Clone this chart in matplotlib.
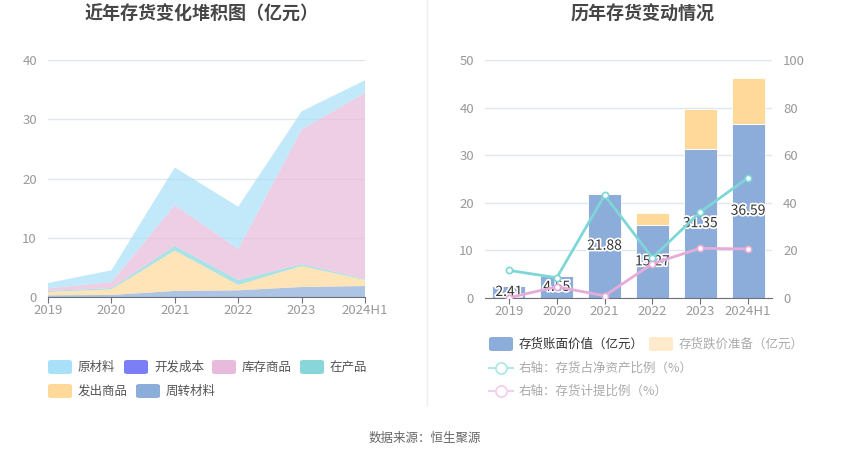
import matplotlib
matplotlib.use("Agg")
import matplotlib.pyplot as plt
import numpy as np
from matplotlib.lines import Line2D
from matplotlib.patches import FancyBboxPatch
import matplotlib.patheffects as pe

plt.rcParams["font.family"] = ["Noto Sans CJK SC", "DejaVu Sans"]

W, H = 850, 459

years = ["2019", "2020", "2021", "2022", "2023", "2024H1"]

# left chart: inventory composition (亿元), stacked bottom -> top
zhouzhuan = [0.34, 0.40, 1.07, 1.18, 1.74, 1.90]      # 周转材料
fachu = [0.56, 0.95, 6.80, 0.90, 3.54, 1.02]          # 发出商品
zaichan = [0.17, 0.20, 0.83, 0.84, 0.32, 0.17]        # 在产品
kucun = [0.45, 1.00, 6.86, 5.23, 22.70, 31.40]        # 库存商品
kaifa = [0.0, 0.0, 0.0, 0.0, 0.0, 0.0]                # 开发成本
yuancai = [0.89, 2.00, 6.32, 7.12, 3.05, 2.10]        # 原材料

# right chart
book_value = [2.41, 4.55, 21.88, 15.27, 31.35, 36.59]
impairment = [0.0, 0.22, 0.18, 2.55, 8.27, 9.55]
ratio_net_assets = [11.5, 8.4, 43.1, 16.8, 36.0, 50.5]
ratio_provision = [0.0, 4.6, 0.8, 14.3, 20.8, 20.5]

C_YUAN = "#a8e0f8"
C_KAIFA = "#7b7ef4"
C_KUCUN = "#e8badb"
C_ZAI = "#88d6da"
C_FACHU = "#ffd999"
C_ZHOU = "#8cacda"
C_TEAL = "#7fd6d6"
C_PINK = "#e6acd9"
GRID = "#e0e6f1"
TICK = "#999999"
AXIS = "#6e7079"


def fx(px):
    return px / W


def fy(py):
    return 1 - py / H


def style_axes(ax):
    for s in ("top", "right", "left"):
        ax.spines[s].set_visible(False)
    ax.spines["bottom"].set_color(AXIS)
    ax.grid(axis="y", color=GRID, linewidth=1)
    ax.set_axisbelow(True)
    ax.tick_params(axis="y", length=0, colors=TICK, labelsize=9.5, pad=8)
    ax.tick_params(axis="x", length=4, color=AXIS, colors=TICK, labelsize=9.5, pad=1)


fig = plt.figure(figsize=(W / 100, H / 100), dpi=100)

# ---- left: stacked area ----
ax1 = fig.add_axes([fx(48), fy(297.3), fx(365 - 48), (297.3 - 60) / H])
x = np.arange(len(years))
ax1.stackplot(x, zhouzhuan, fachu, zaichan, kucun, kaifa, yuancai,
              colors=[C_ZHOU, C_FACHU, C_ZAI, C_KUCUN, C_KAIFA, C_YUAN],
              alpha=0.7, linewidth=0)
ax1.set_xlim(0, len(years) - 1)
ax1.set_ylim(0, 40)
ax1.set_yticks([0, 10, 20, 30, 40])
ax1.set_xticks(x)
ax1.set_xticklabels(years)
style_axes(ax1)

# ---- right: bars + lines ----
ax2 = fig.add_axes([fx(485), fy(297.7), fx(772 - 485), (297.7 - 60) / H])
ax2.bar(x, book_value, width=0.69, color=C_ZHOU, edgecolor="white", linewidth=0.6, zorder=2)
ax2.bar(x, impairment, bottom=book_value, width=0.69, color=C_FACHU,
        edgecolor="white", linewidth=0.6, zorder=2)
for xi, v in zip(x, book_value):
    ax2.text(xi, v / 2, f"{v:.2f}", ha="center", va="center", fontsize=10, color="#333333",
             path_effects=[pe.withStroke(linewidth=2.5, foreground="white")], zorder=3)
ax2.set_xlim(-0.5, len(years) - 0.5)
ax2.set_ylim(0, 50)
ax2.set_yticks([0, 10, 20, 30, 40, 50])
ax2.set_xticks(x)
ax2.set_xticklabels(years)
style_axes(ax2)

ax3 = ax2.twinx()
ax3.plot(x, ratio_net_assets, color=C_TEAL, linewidth=2, marker="o", markersize=4.5,
         markerfacecolor="white", markeredgecolor=C_TEAL, markeredgewidth=1.2)
ax3.plot(x, ratio_provision, color=C_PINK, linewidth=2, marker="o", markersize=4.5,
         markerfacecolor="white", markeredgecolor=C_PINK, markeredgewidth=1.2)
ax3.set_ylim(0, 100)
ax3.set_yticks([0, 20, 40, 60, 80, 100])
for s in ax3.spines.values():
    s.set_visible(False)
ax3.tick_params(axis="y", length=0, colors=TICK, labelsize=9.5, pad=8)

# ---- titles, divider, footer ----
fig.text(fx(202), fy(14), "近年存货变化堆积图（亿元）", ha="center", va="center",
         fontsize=13, fontweight="bold", color="#464646")
fig.text(fx(643), fy(14), "历年存货变动情况", ha="center", va="center",
         fontsize=13, fontweight="bold", color="#464646")
fig.add_artist(Line2D([fx(427), fx(427)], [fy(0), fy(405)], color="#eeeeee", linewidth=1))
fig.text(fx(425), fy(438), "数据来源：恒生聚源", ha="center", va="center",
         fontsize=9, color="#666666")


def legend_patch(px, py, color, label, tcolor="#555555"):
    fig.add_artist(FancyBboxPatch((fx(px), fy(py + 7)), fx(24), 14 / H,
                                  boxstyle="round,pad=0,rounding_size=0.004",
                                  facecolor=color, edgecolor="none"))
    fig.text(fx(px + 30), fy(py), label, ha="left", va="center", fontsize=9, color=tcolor)


def legend_line(px, py, color, label, tcolor="#aaaaaa"):
    fig.add_artist(Line2D([fx(px), fx(px + 24)], [fy(py), fy(py)], color=color, linewidth=1.5))
    fig.add_artist(Line2D([fx(px + 12)], [fy(py)], color=color, marker="o", markersize=8,
                          markerfacecolor="white", markeredgewidth=1.3))
    fig.text(fx(px + 30), fy(py), label, ha="left", va="center", fontsize=9, color=tcolor)


legend_patch(48, 367, C_YUAN, "原材料")
legend_patch(124, 367, C_KAIFA, "开发成本")
legend_patch(212, 367, C_KUCUN, "库存商品")
legend_patch(300, 367, C_ZAI, "在产品")
legend_patch(48, 391, C_FACHU, "发出商品")
legend_patch(136, 391, C_ZHOU, "周转材料")

legend_patch(489, 344, C_ZHOU, "存货账面价值（亿元）", tcolor="#333333")
legend_patch(649, 344, "#ffebcc", "存货跌价准备（亿元）", tcolor="#aaaaaa")
legend_line(489, 368, "#aee8e8", "右轴：存货占净资产比例（%）")
legend_line(489, 391, "#f2d0ea", "右轴：存货计提比例（%）")

fig.savefig("out.png", dpi=100)
